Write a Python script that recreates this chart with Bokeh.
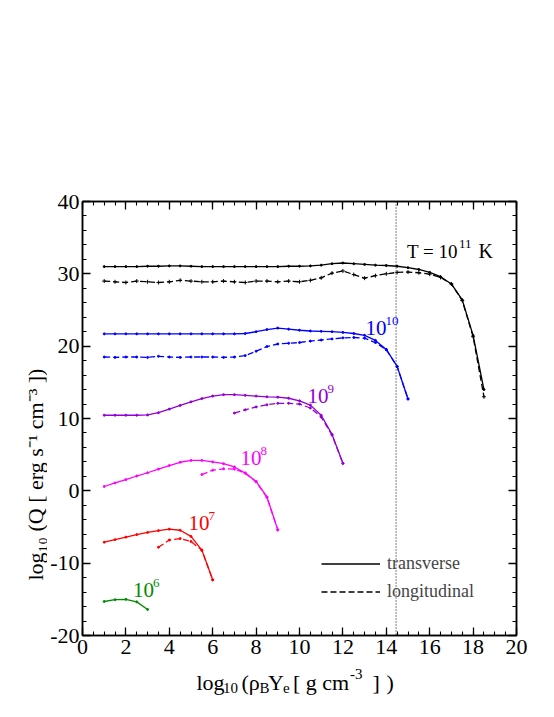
import numpy as np
from bokeh.plotting import figure
from bokeh.layouts import row, column
from bokeh.models import (Range1d, LinearAxis, SingleIntervalTicker, Label,
                          Legend, LegendItem, Span)
from bokeh.embed import file_html
from bokeh.resources import INLINE

# ---------------- data ----------------
x_t11 = [1.0, 1.5, 2.0, 2.5, 3.0, 3.5, 4.0, 4.5, 5.0, 5.5, 6.0, 6.5, 7.0, 7.5, 8.0, 8.5,
         9.0, 9.5, 10.0, 10.5, 11.0, 11.5, 12.0, 12.5, 13.0, 13.5, 14.0, 14.5, 15.0,
         15.5, 16.0, 16.5, 17.0, 17.5, 18.0, 18.5]
t11_trans = [31.0, 31.0, 31.0, 31.0, 31.05, 31.05, 31.1, 31.1, 31.05, 31.0, 31.0, 31.0,
             31.0, 31.0, 31.0, 31.0, 31.0, 31.05, 31.05, 31.1, 31.2, 31.4, 31.5, 31.4,
             31.3, 31.2, 31.15, 31.05, 30.85, 30.6, 30.2, 29.6, 28.6, 26.4, 21.5, 14.0]
t11_long = [29.0, 28.9, 28.8, 29.0, 28.9, 28.8, 28.9, 29.1, 29.0, 28.9, 28.9, 29.0,
            28.9, 28.8, 29.0, 29.0, 28.9, 29.0, 28.9, 29.1, 29.45, 30.1, 30.4, 29.9,
            29.4, 29.75, 30.0, 30.2, 30.25, 30.15, 29.95, 29.5, 28.6, 26.3, 21.3, 13.0]

x_t10 = [1.0, 1.5, 2.0, 2.5, 3.0, 3.5, 4.0, 4.5, 5.0, 5.5, 6.0, 6.5, 7.0, 7.5, 8.0, 8.5,
         9.0, 9.5, 10.0, 10.5, 11.0, 11.5, 12.0, 12.5, 13.0, 13.5, 14.0, 14.5, 15.0]
t10_trans = [21.7, 21.7, 21.7, 21.7, 21.7, 21.7, 21.7, 21.7, 21.7, 21.7, 21.7, 21.7, 21.7,
             21.75, 22.0, 22.3, 22.5, 22.35, 22.2, 22.1, 22.05, 22.0, 21.9, 21.75, 21.5,
             20.8, 19.55, 17.2, 12.7]
t10_long = [18.5, 18.45, 18.5, 18.5, 18.45, 18.6, 18.5, 18.45, 18.5, 18.5, 18.5, 18.45,
            18.5, 18.7, 19.3, 19.95, 20.3, 20.4, 20.5, 20.7, 20.85, 21.0, 21.15, 21.2,
            21.1, 20.5, 19.5, 17.2, 12.7]

x_t9 = [1.0, 1.5, 2.0, 2.5, 3.0, 3.5, 4.0, 4.5, 5.0, 5.5, 6.0, 6.5, 7.0, 7.5, 8.0, 8.5,
        9.0, 9.5, 10.0, 10.5, 11.0, 11.5, 12.0]
t9_trans = [10.45, 10.45, 10.45, 10.45, 10.5, 10.8, 11.3, 11.8, 12.3, 12.75, 13.1, 13.3,
            13.3, 13.2, 13.1, 13.0, 12.95, 12.8, 12.45, 11.85, 10.45, 7.8, 3.8]
x_t9l = [7.0, 7.5, 8.0, 8.5, 9.0, 9.5, 10.0, 10.5, 11.0, 11.5, 12.0]
t9_long = [10.75, 11.2, 11.6, 11.9, 12.1, 12.1, 12.0, 11.45, 10.2, 7.7, 3.8]

x_t8 = [1.0, 1.5, 2.0, 2.5, 3.0, 3.5, 4.0, 4.5, 5.0, 5.5, 6.0, 6.5, 7.0, 7.5, 8.0, 8.5, 9.0]
t8_trans = [0.6, 1.1, 1.55, 2.05, 2.5, 3.0, 3.5, 3.95, 4.2, 4.2, 4.0, 3.75, 3.3, 2.45,
            1.3, -0.85, -5.4]
x_t8l = [5.5, 6.0, 6.5, 7.0, 7.5, 8.0, 8.5, 9.0]
t8_long = [2.25, 2.85, 3.05, 3.0, 2.45, 1.25, -0.9, -5.4]

x_t7 = [1.0, 1.5, 2.0, 2.5, 3.0, 3.5, 4.0, 4.5, 5.0, 5.5, 6.0]
t7_trans = [-7.1, -6.75, -6.4, -6.05, -5.75, -5.5, -5.3, -5.45, -6.3, -8.2, -12.3]
x_t7l = [3.5, 4.0, 4.5, 5.0, 5.5, 6.0]
t7_long = [-7.8, -6.8, -6.6, -7.0, -8.2, -12.3]

x_t6 = [1.0, 1.5, 2.0, 2.5, 3.0]
t6_trans = [-15.3, -15.05, -15.0, -15.35, -16.4]

nuclear_density = 14.45
x_ticks_interval = 2
y_ticks_interval = 10
y_tick_text = {-20: "-20", -10: "-10"}
y_title = "log₁₀ (Q [ erg s⁻¹ cm⁻³ ])"

# ---------------- layout constants (page pixels) ----------------
FONT = "Liberation Serif"
BLACK, BLUE, VIOLET, MAGENTA, RED, GREEN = "#000000", "#0000ff", "#9400d3", "#ff00ff", "#ff0000", "#008b00"

YW = 47                      # width of the strip that carries the y title
FL, FT, FW, FH = 82, 201, 434, 434
MB = 31                      # bottom border of the main plot
PH = FT + FH + MB            # main plot height
XH = 40                      # height of the strip that carries the x title
MID = 0.3375                 # baseline -> centre of text box (em), Liberation Serif

p = figure(frame_width=FW, frame_height=FH, x_range=Range1d(0, 20), y_range=Range1d(-20, 40),
           output_backend="svg", toolbar_location=None,
           min_border_left=FL - YW, min_border_top=FT, min_border_right=22, min_border_bottom=MB,
           background_fill_color="white", border_fill_color="white")
p.xgrid.visible = False
p.ygrid.visible = False
p.outline_line_color = "black"
p.outline_line_width = 1.5

p.add_layout(LinearAxis(), "above")
p.add_layout(LinearAxis(), "right")


def style(ax, ticker, show, standoff):
    ax.ticker = ticker
    ax.axis_line_color = "black"
    ax.axis_line_width = 1.5
    ax.major_tick_in = 8
    ax.major_tick_out = 0
    ax.minor_tick_in = 4
    ax.minor_tick_out = 0
    ax.major_tick_line_width = 1.3
    ax.minor_tick_line_width = 1.1
    ax.major_label_text_font = FONT
    ax.major_label_text_font_size = "22px"
    ax.major_label_text_color = "black" if show else None
    ax.major_label_standoff = standoff
    ax.axis_label = None


for ax in p.below + p.above:
    style(ax, SingleIntervalTicker(interval=x_ticks_interval, num_minor_ticks=4), ax in p.below, 4)
for ax in p.left + p.right:
    style(ax, SingleIntervalTicker(interval=y_ticks_interval, num_minor_ticks=5), ax in p.left, 3)
p.left[0].major_label_overrides = y_tick_text

p.add_layout(Span(location=nuclear_density, dimension="height", line_color="black",
                  line_width=1, line_dash="1 2"))

DASH = "6 3"
series = [
    (x_t11, t11_trans, BLACK, "solid"), (x_t11, t11_long, BLACK, DASH),
    (x_t10, t10_trans, BLUE, "solid"), (x_t10, t10_long, BLUE, DASH),
    (x_t9, t9_trans, VIOLET, "solid"), (x_t9l, t9_long, VIOLET, DASH),
    (x_t8, t8_trans, MAGENTA, "solid"), (x_t8l, t8_long, MAGENTA, DASH),
    (x_t7, t7_trans, RED, "solid"), (x_t7l, t7_long, RED, DASH),
    (x_t6, t6_trans, GREEN, "solid"),
]
renderers = []
for xs, ys, c, d in series:
    r = p.line(xs, ys, line_color=c, line_width=1.3, line_dash=d)
    renderers.append(r)
    if c == BLACK and d != "solid":
        p.scatter(xs, ys, marker="cross", size=4, line_color=c, line_width=1)
    else:
        p.scatter(xs, ys, marker="circle", size=2, color=c)

legend = Legend(items=[LegendItem(label="transverse", renderers=[renderers[0]]),
                       LegendItem(label="longitudinal", renderers=[renderers[1]])],
                location=(239, 33), padding=0, margin=0, spacing=7,
                glyph_width=59, glyph_height=21, label_height=21, label_standoff=7,
                label_text_font=FONT, label_text_font_size="18px",
                background_fill_alpha=0, border_line_color=None)
p.add_layout(legend)

SX = FW / 20.0
SY = FH / 60.0


def text_kw(text, size, color, angle, align="left"):
    return dict(text=text, text_font=FONT, text_font_size=f"{size}px", text_color=color,
                text_baseline="middle", text_align=align, angle=angle)


def lab(X, Y, text, size, color="black"):
    """label inside the main plot: page X of its start, page Y of its baseline"""
    Yc = Y - MID * size
    p.add_layout(Label(x=(X - FL) / SX, y=40 - (Yc - FT) / SY, **text_kw(text, size, color, 0)))


# series labels: (page X of "10", baseline Y, exponent, colour)
for X, Y, e, c in [(365, 335, "10", BLUE), (307, 403, "9", VIOLET), (240, 465, "8", MAGENTA),
                   (188, 530, "7", RED), (132.5, 597, "6", GREEN)]:
    lab(X, Y, "10", 21, c)
    lab(X + 20, Y - 10, e, 13, c)

lab(406.5, 257.7, "T = 10", 19)
lab(458.5, 247.5, "11", 13)
lab(478, 257.7, "K", 20)

# ---------------- y title strip (data units = page pixels, y measured up) ----------------
yfig = figure(width=YW, height=PH, x_range=Range1d(0, YW), y_range=Range1d(0, PH),
              output_backend="svg", toolbar_location=None, min_border=0,
              x_axis_location=None, y_axis_location=None, outline_line_color=None,
              background_fill_color="white", border_fill_color="white")
yfig.grid.visible = False

BYX = 42.0                       # baseline of the rotated title (page X)
YMID = 419                       # centre of the title along the axis (page Y)
yfig.add_layout(Label(x=BYX - MID * 22, y=PH - YMID,
                      **text_kw(y_title, 22, "black", np.pi / 2, "center")))

# ---------------- x title strip ----------------
XW = FL + FW + 30
xfig = figure(width=XW, height=XH, x_range=Range1d(0, XW), y_range=Range1d(0, XH),
              output_backend="svg", toolbar_location=None, min_border=0,
              x_axis_location=None, y_axis_location=None, outline_line_color=None,
              background_fill_color="white", border_fill_color="white")
xfig.grid.visible = False

BX = 689.0
for X, t, s, dy in [(196, "log", 22, 0), (222.5, "10", 15, 3.5), (241, "(ρ", 22, 0),
                    (259, "B", 15, 3.5), (267.5, "Y", 22, 0), (282.5, "e", 15, 3.5),
                    (292.5, "[ g cm", 22, 0), (349.5, "-3", 15, -10.5), (372, "]", 22, 0),
                    (386, ")", 22, 0)]:
    Yc = BX + dy - MID * s
    xfig.add_layout(Label(x=X, y=(PH + XH) - Yc, **text_kw(t, s, "black", 0)))

root = column(row(yfig, p, spacing=0), xfig, spacing=0)
open("out.html", "w").write(file_html(root, INLINE))
